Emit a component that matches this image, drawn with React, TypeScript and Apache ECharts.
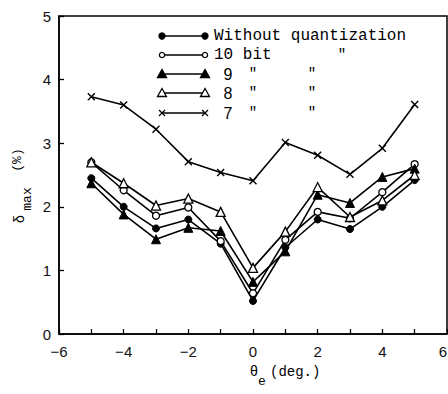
import React, { useEffect, useRef } from "react";
import * as echarts from "echarts";

const angles = [-5, -4, -3, -2, -1, 0, 1, 2, 3, 4, 5];
const noQuant = [2.45, 2.0, 1.66, 1.8, 1.42, 0.52, 1.36, 1.8, 1.65, 2.0, 2.42];
const bit10 = [2.7, 2.26, 1.86, 1.99, 1.46, 0.64, 1.48, 1.92, 1.82, 2.23, 2.67];
const bit9 = [2.37, 1.88, 1.49, 1.67, 1.62, 0.82, 1.3, 2.19, 2.06, 2.47, 2.6];
const bit8 = [2.7, 2.37, 2.02, 2.13, 1.92, 1.04, 1.61, 2.31, 1.84, 2.1, 2.5];
const bit7 = [3.73, 3.6, 3.22, 2.71, 2.54, 2.41, 3.01, 2.81, 2.51, 2.92, 3.61];
const legendLabels = ["Without quantization", "10 bit", "9", "8", "7"];
const xTicks = [-6, -4, -2, 0, 2, 4, 6];

const MONO = "Liberation Mono";
const SANS = "Liberation Sans";
const XPATH = "path://M0,0L10,10M10,0L0,10";

type Kind = "dot" | "ring" | "tri" | "otri" | "cross";
const kinds: Kind[] = ["dot", "ring", "tri", "otri", "cross"];

function marker(kind: Kind, x: number, y: number): any[] {
  const st = { stroke: "#000", lineWidth: 1.3 };
  switch (kind) {
    case "dot":
      return [{ type: "circle", shape: { cx: x, cy: y, r: 3 }, style: { fill: "#000", ...st } }];
    case "ring":
      return [{ type: "circle", shape: { cx: x, cy: y, r: 2.6 }, style: { fill: "#fff", ...st } }];
    case "tri":
      return [{ type: "polygon", shape: { points: [[x, y - 4.5], [x + 4.5, y + 3.5], [x - 4.5, y + 3.5]] }, style: { fill: "#000", ...st } }];
    case "otri":
      return [{ type: "polygon", shape: { points: [[x, y - 4.5], [x + 4.5, y + 3.5], [x - 4.5, y + 3.5]] }, style: { fill: "#fff", ...st } }];
    default:
      return [
        { type: "line", shape: { x1: x - 3, y1: y - 3, x2: x + 3, y2: y + 3 }, style: st },
        { type: "line", shape: { x1: x + 3, y1: y - 3, x2: x - 3, y2: y + 3 }, style: st },
      ];
  }
}

function txt(text: string, x: number, y: number, size: number, family: string, extra: any = {}) {
  return {
    type: "text",
    x,
    y,
    ...extra,
    style: { text, fontSize: size, fontFamily: family, fill: "#000", align: extra.align || "left", verticalAlign: "middle" },
  };
}

export default function App() {
  const ref = useRef<HTMLDivElement>(null);
  useEffect(() => {
    if (!ref.current) return;
    const chart = echarts.init(ref.current, null, { renderer: "svg" });

    const mk = (vals: number[]) => angles.map((a, i) => [a, vals[i]]);
    const line = { color: "#000", width: 1.6 };
    const seriesDefs = [
      { name: "Without quantization", data: noQuant, symbol: "circle", symbolSize: 7, itemStyle: { color: "#000", borderColor: "#000", borderWidth: 1 } },
      { name: "10 bit", data: bit10, symbol: "circle", symbolSize: 7, itemStyle: { color: "#fff", borderColor: "#000", borderWidth: 1.3 } },
      { name: "9 bit", data: bit9, symbol: "triangle", symbolSize: 9, itemStyle: { color: "#000", borderColor: "#000", borderWidth: 1 } },
      { name: "8 bit", data: bit8, symbol: "triangle", symbolSize: 9, itemStyle: { color: "#fff", borderColor: "#000", borderWidth: 1.3 } },
      { name: "7 bit", data: bit7, symbol: XPATH, symbolSize: 7, itemStyle: { color: "#000", borderColor: "#000", borderWidth: 1.4 } },
    ];

    const legendRowsY = [36, 55, 74, 93, 113];
    const graphics: any[] = [];
    legendRowsY.forEach((y, i) => {
      graphics.push({ type: "line", shape: { x1: 162, y1: y, x2: 205, y2: y }, style: { stroke: "#000", lineWidth: 1.5 } });
      graphics.push(...marker(kinds[i], 162, y));
      graphics.push(...marker(kinds[i], 205, y));
      if (i === 0) {
        graphics.push(txt(legendLabels[i], 214, y, 16, MONO));
      } else if (i === 1) {
        graphics.push(txt(legendLabels[i], 214, y, 16, MONO));
        graphics.push(txt('"', 342, y, 14, MONO, { align: "center" }));
      } else {
        graphics.push(txt(legendLabels[i], 228, y, 16, SANS, { align: "center" }));
        graphics.push(txt('"', 253, y, 14, MONO, { align: "center" }));
        graphics.push(txt('"', 312, y, 14, MONO, { align: "center" }));
      }
    });
    // x axis title
    graphics.push(txt("θ", 254, 372, 14, MONO, { align: "center" }));
    graphics.push(txt("e", 262, 381, 13, MONO, { align: "center" }));
    graphics.push(txt("(deg.)", 270, 372, 14, MONO));
    // y axis title
    graphics.push(txt("δ", 20, 219, 14, MONO, { align: "center", rotation: Math.PI / 2 }));
    graphics.push(txt("max", 27, 199, 13, MONO, { align: "center", rotation: Math.PI / 2 }));
    graphics.push(txt("(%)", 17, 160, 13, MONO, { align: "center", rotation: Math.PI / 2 }));

    chart.setOption({
      animation: false,
      backgroundColor: "#fff",
      grid: { left: 59, right: 1, top: 16, bottom: 60, show: true, borderColor: "#000", borderWidth: 1.5, outerBoundsMode: "none" } as any,
      xAxis: {
        type: "value",
        min: -6,
        max: 6,
        interval: 1,
        axisLine: { onZero: false, lineStyle: { color: "#000", width: 1.5 } },
        axisTick: { inside: true, length: 5, lineStyle: { color: "#000", width: 1.3 } },
        splitLine: { show: false },
        axisLabel: {
          color: "#111",
          fontFamily: SANS,
          fontSize: 15,
          margin: 10,
          alignMaxLabel: "right",
          formatter: (v: number) => (xTicks.indexOf(v) >= 0 ? String(v).replace("-", "−") : ""),
        },
      },
      yAxis: {
        type: "value",
        min: 0,
        max: 5,
        interval: 1,
        axisLine: { onZero: false, lineStyle: { color: "#000", width: 1.5 } },
        axisTick: { inside: true, length: 5, lineStyle: { color: "#000", width: 1.3 } },
        splitLine: { show: false },
        axisLabel: { color: "#111", fontFamily: SANS, fontSize: 15, margin: 8 },
      },
      graphic: graphics,
      series: seriesDefs.map((s) => ({
        type: "line",
        name: s.name,
        data: mk(s.data),
        symbol: s.symbol,
        symbolSize: s.symbolSize,
        showSymbol: true,
        lineStyle: line,
        itemStyle: s.itemStyle,
        emphasis: { disabled: true },
      })),
    });
    return () => chart.dispose();
  }, []);
  return <div ref={ref} style={{ position: "fixed", left: 0, top: 0, width: 448, height: 394 }} />;
}
